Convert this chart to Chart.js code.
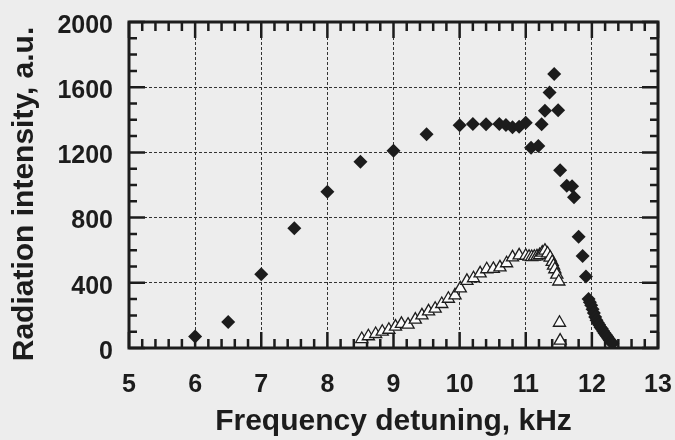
<!DOCTYPE html>
<html>
<head>
<meta charset="utf-8">
<script src="https://cdn.jsdelivr.net/npm/chart.js@4.4.0/dist/chart.umd.min.js"></script>
<style>
    body { margin: 0; background: #ededed; }
    canvas { display: block; }
</style>
</head>
<body>
<canvas id="detuningChart" width="675" height="440"></canvas>
<script>
// filled diamonds: radiation intensity vs frequency detuning
var diamondX = [6.0, 6.5, 7.0, 7.5, 8.0, 8.5, 9.0, 9.5, 10.0, 10.2, 10.4, 10.6, 10.7, 10.8, 10.9, 11.0,
    11.08, 11.19, 11.24, 11.29, 11.36, 11.43, 11.49, 11.52, 11.62, 11.70, 11.73, 11.80, 11.86, 11.91,
    11.95, 11.97, 11.99, 12.01, 12.03, 12.05, 12.07, 12.09, 12.11, 12.13, 12.15, 12.17, 12.19, 12.21,
    12.23, 12.25, 12.27, 12.29, 12.31]
var diamondY = [70, 160, 452, 735, 958, 1143, 1210, 1311, 1366, 1374, 1372, 1374, 1368, 1354, 1358, 1382,
    1228, 1239, 1372, 1455, 1567, 1681, 1458, 1090, 996, 992, 925, 683, 565, 438,
    300, 280, 262, 238, 215, 190, 170, 155, 142, 128, 118, 105, 92, 82,
    70, 58, 48, 38, 28]

// open triangles
var triangleX = [8.52, 8.62, 8.73, 8.83, 8.93, 9.03, 9.12, 9.22, 9.33, 9.43, 9.53, 9.63, 9.73, 9.83, 9.93,
    10.01, 10.11, 10.21, 10.31, 10.41, 10.51, 10.61, 10.71, 10.80, 10.90, 11.00, 11.05, 11.09, 11.13,
    11.17, 11.21, 11.25, 11.29, 11.33, 11.37, 11.40, 11.42, 11.44, 11.47, 11.50, 11.51, 11.52]
var triangleY = [55, 72, 86, 100, 112, 131, 148, 143, 174, 200, 225, 241, 270, 302, 323,
    366, 412, 428, 458, 483, 485, 495, 520, 556, 568, 566, 560, 558, 560,
    562, 570, 585, 597, 580, 555, 528, 505, 483, 450, 408, 155, 45]

var xTickValues = [5, 6, 7, 8, 9, 10, 11, 12, 13]
var yTickValues = [0, 400, 800, 1200, 1600, 2000]

var ink = '#1c1c1c'

function toPoints(xs, ys){
    var pts = []
    for(var i = 0; i < xs.length; i++){
        pts.push({x: xs[i], y: ys[i]})
    }
    return pts
}

// labels may overhang the plot edges without shrinking it
function noOverhang(scale){
    scale.paddingLeft = 0
    scale.paddingRight = 0
    scale.paddingTop = 0
    scale.paddingBottom = 0
}

// box round the plot with inward major/minor ticks on all four sides
var frameTicks = {
    id: 'frameTicks',
    beforeDatasetsDraw(chart){
        var ctx = chart.ctx
        var a = chart.chartArea
        var xs = chart.scales.x
        var ys = chart.scales.y
        ctx.save()
        ctx.strokeStyle = ink
        ctx.lineWidth = 2.5
        ctx.beginPath()
        for(var i = 0; i <= 40; i++){
            var px = xs.getPixelForValue(5 + i * 0.2)
            var len = i % 5 == 0 ? 16 : 9
            ctx.moveTo(px, a.bottom); ctx.lineTo(px, a.bottom - len)
            ctx.moveTo(px, a.top); ctx.lineTo(px, a.top + len)
        }
        for(var j = 0; j <= 20; j++){
            var py = ys.getPixelForValue(j * 100)
            var ylen = j % 4 == 0 ? 16 : 8
            ctx.moveTo(a.left, py); ctx.lineTo(a.left + ylen, py)
            ctx.moveTo(a.right, py); ctx.lineTo(a.right - ylen, py)
        }
        ctx.stroke()
        ctx.lineWidth = 3
        ctx.strokeRect(a.left, a.top, a.right - a.left, a.bottom - a.top)
        ctx.restore()
    },
    afterDraw(chart){
        // vertical axis title
        var ctx = chart.ctx
        var a = chart.chartArea
        ctx.save()
        ctx.fillStyle = ink
        ctx.font = 'bold 30px "Liberation Sans", Arial, sans-serif'
        ctx.textAlign = 'center'
        ctx.textBaseline = 'alphabetic'
        ctx.translate(33, (a.top + a.bottom) / 2 + 9)
        ctx.rotate(-Math.PI / 2)
        ctx.fillText('Radiation intensity, a.u.', 0, 0)
        ctx.restore()
    }
}

var tickFont = {family: '"Liberation Sans", Arial, sans-serif', size: 25, weight: 'bold'}

new Chart(document.getElementById('detuningChart'), {
    type: 'scatter',
    data: {
        datasets: [{
            label: 'diamonds',
            data: toPoints(diamondX, diamondY),
            pointStyle: 'rectRot',
            pointRadius: 7,
            backgroundColor: ink,
            borderColor: ink,
            borderWidth: 0
        }, {
            label: 'triangles',
            data: toPoints(triangleX, triangleY),
            pointStyle: 'triangle',
            pointRadius: 7,
            backgroundColor: '#fafafa',
            borderColor: ink,
            borderWidth: 1.3
        }]
    },
    options: {
        responsive: false,
        animation: false,
        events: [],
        layout: {
            autoPadding: false,
            padding: {top: 22, right: 17, left: 0, bottom: 0}
        },
        plugins: {
            legend: {display: false},
            tooltip: {enabled: false}
        },
        scales: {
            x: {
                type: 'linear',
                min: 5,
                max: 13,
                afterBuildTicks: function(scale){
                    scale.ticks = xTickValues.map(function(v){ return {value: v} })
                },
                afterFit: function(scale){
                    scale.height = 92
                    noOverhang(scale)
                },
                grid: {color: '#333', lineWidth: 1, drawTicks: false},
                border: {display: false, dash: [3, 2]},
                ticks: {
                    color: ink, font: tickFont, padding: 22, maxRotation: 0,
                    callback: function(v){ return String(v) }
                },
                title: {
                    display: true,
                    text: 'Frequency detuning, kHz',
                    color: ink,
                    font: {family: '"Liberation Sans", Arial, sans-serif', size: 30, weight: 'bold'},
                    padding: {top: 0, bottom: 0}
                }
            },
            y: {
                type: 'linear',
                min: 0,
                max: 2000,
                afterBuildTicks: function(scale){
                    scale.ticks = yTickValues.map(function(v){ return {value: v} })
                },
                afterFit: function(scale){
                    scale.width = 129
                    noOverhang(scale)
                },
                grid: {color: '#333', lineWidth: 1, drawTicks: false},
                border: {display: false, dash: [3, 2]},
                ticks: {
                    color: ink, font: tickFont, padding: 16, labelOffset: 4,
                    callback: function(v){ return String(v) }
                }
            }
        }
    },
    plugins: [frameTicks]
})
</script>
</body>
</html>
